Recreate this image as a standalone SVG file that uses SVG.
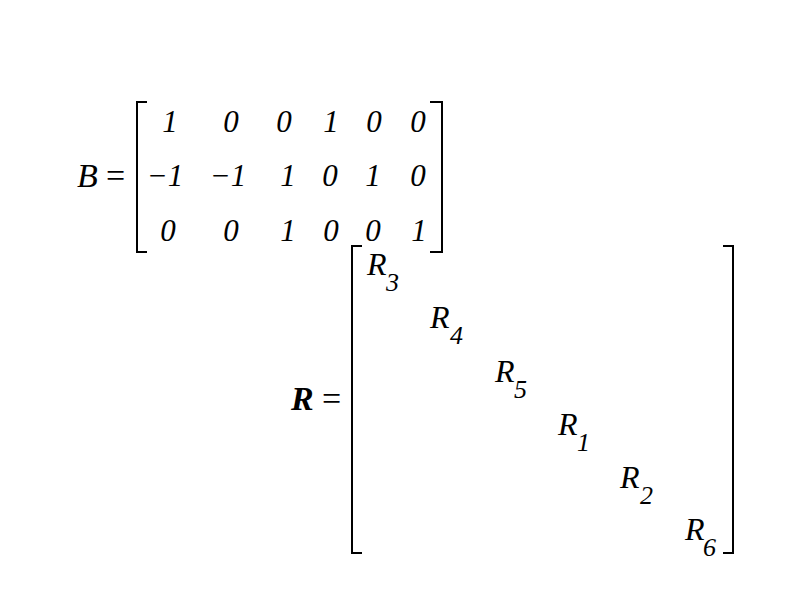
<svg xmlns="http://www.w3.org/2000/svg" width="800" height="600" viewBox="0 0 800 600" font-family="'Liberation Serif', 'Times New Roman', serif">
<style>
text{fill:#000}
.i{font-style:italic}
.d{font-size:31px;font-style:italic;text-anchor:middle}
.r{font-size:32px;font-style:italic}
.s{font-size:26px;font-style:italic}
.br{fill:none;stroke:#000;stroke-width:2}
</style>
<rect width="800" height="600" fill="#fff"/>
<g id="matrixB">
<text class="i" x="77" y="187" font-size="34">B</text>
<text x="106" y="187" font-size="34">=</text>
<path class="br" d="M147,102 H137 V252 H147"/>
<path class="br" d="M430,102 H442 V252 H430"/>
<g>
<text class="d" x="170" y="132">1</text>
<text class="d" x="231" y="132">0</text>
<text class="d" x="284" y="132">0</text>
<text class="d" x="331" y="132">1</text>
<text class="d" x="374" y="132">0</text>
<text class="d" x="418" y="132">0</text>
<text class="d" x="165" y="186">−1</text>
<text class="d" x="228" y="186">−1</text>
<text class="d" x="288" y="186">1</text>
<text class="d" x="330" y="186">0</text>
<text class="d" x="373" y="186">1</text>
<text class="d" x="418" y="186">0</text>
<text class="d" x="168" y="241">0</text>
<text class="d" x="231" y="241">0</text>
<text class="d" x="288" y="241">1</text>
<text class="d" x="331" y="241">0</text>
<text class="d" x="373" y="241">0</text>
<text class="d" x="419" y="241">1</text>
</g>
</g>
<g id="matrixR">
<text class="i" x="291" y="410" font-size="34" font-weight="bold">R</text>
<text x="322" y="410" font-size="34">=</text>
<path class="br" d="M362,246 H352 V553 H362"/>
<path class="br" d="M723,246 H733 V553 H723"/>
<g>
<text class="r" x="367" y="275">R</text><text class="s" x="386" y="291">3</text>
<text class="r" x="430" y="328">R</text><text class="s" x="450" y="344">4</text>
<text class="r" x="495" y="382">R</text><text class="s" x="514" y="398">5</text>
<text class="r" x="558" y="435">R</text><text class="s" x="577" y="451">1</text>
<text class="r" x="620" y="488">R</text><text class="s" x="640" y="504">2</text>
<text class="r" x="685" y="540">R</text><text class="s" x="703" y="556">6</text>
</g>
</g>
</svg>
